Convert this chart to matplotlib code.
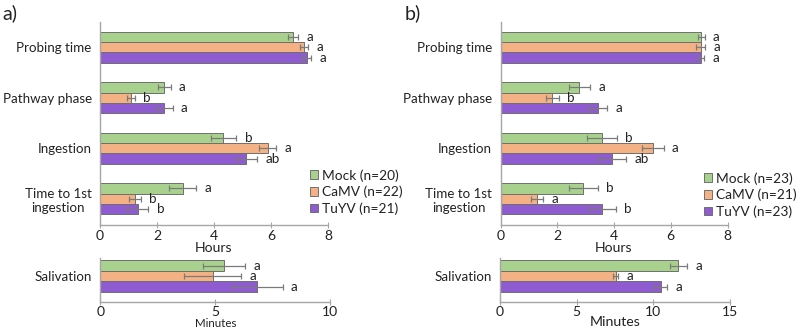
import numpy as np
import matplotlib.pyplot as plt
from matplotlib.patches import Patch

plt.rcParams['font.family'] = ['Lato', 'DejaVu Sans']

# ---- data ----
behaviours = ["Probing time", "Pathway phase", "Ingestion", "Time to 1st\ningestion"]
treatments = ["Mock", "CaMV", "TuYV"]
colors = ["#a9d18e", "#f4b183", "#8f5bd0"]

# panel a) - hours, one list per treatment
a_n = [20, 22, 21]
a_mock = [6.77, 2.25, 4.33, 2.90]
a_camv = [7.16, 1.08, 5.88, 1.23]
a_tuyv = [7.25, 2.25, 5.14, 1.33]
a_mock_err = [0.18, 0.23, 0.45, 0.47]
a_camv_err = [0.15, 0.15, 0.30, 0.20]
a_tuyv_err = [0.15, 0.30, 0.37, 0.37]
a_letters = [["a", "a", "b", "a"], ["a", "b", "a", "b"], ["a", "a", "ab", "b"]]
# salivation - minutes
a_sal = [5.38, 4.89, 6.84]
a_sal_err = [0.92, 1.25, 1.10]
a_sal_letters = ["a", "a", "a"]

# panel b)
b_n = [23, 21, 23]
b_mock = [7.07, 2.78, 3.57, 2.92]
b_camv = [7.05, 1.82, 5.37, 1.29]
b_tuyv = [7.05, 3.43, 3.92, 3.59]
b_mock_err = [0.12, 0.38, 0.53, 0.50]
b_camv_err = [0.15, 0.23, 0.38, 0.20]
b_tuyv_err = [0.12, 0.33, 0.50, 0.47]
b_letters = [["a", "a", "b", "b"], ["a", "b", "a", "a"], ["a", "a", "ab", "b"]]
b_sal = [11.63, 7.55, 10.48]
b_sal_err = [0.55, 0.17, 0.42]
b_sal_letters = ["a", "a", "a"]

W, H = 800, 330
fig = plt.figure(figsize=(8, 3.3), dpi=100)
FS = 9.6

def px_axes(x0, y0, x1, y1):
    # pixel box -> figure fraction
    return fig.add_axes([x0 / W, 1 - y1 / H, (x1 - x0) / W, (y1 - y0) / H])

h = 0.207
spine_col = "#a6a6a6"
err_kw = dict(ecolor="#7a7a7a", elinewidth=0.9, capsize=2.3, capthick=0.9)

def style(ax):
    for s in ["top", "right"]:
        ax.spines[s].set_visible(False)
    for s in ["left", "bottom"]:
        ax.spines[s].set_color(spine_col)
        ax.spines[s].set_linewidth(1.0)
    ax.tick_params(axis='y', length=0, pad=6, labelsize=FS, colors="#222222")
    ax.tick_params(axis='x', direction='inout', length=5, color=spine_col,
                   pad=1, labelsize=FS + 0.5, labelcolor="#222222")

def draw_top(ax, means, errs, letters):
    y = np.arange(len(behaviours))
    for i in range(3):
        yy = y + (i - 1) * h
        ax.barh(yy, means[i], height=h, color=colors[i], edgecolor="#6f6f6f",
                linewidth=0.7, xerr=errs[i], error_kw=err_kw)
        for j in range(len(behaviours)):
            ax.annotate(letters[i][j], (means[i][j] + errs[i][j], yy[j]),
                        xytext=(6, 0), textcoords='offset points',
                        ha='left', va='center', fontsize=FS, color="#222222")
    ax.set_yticks(y)
    ax.set_yticklabels(behaviours, multialignment='center')
    ax.set_ylim(3.52, -0.5)
    ax.set_xlim(0, 8)
    ax.set_xticks([0, 2, 4, 6, 8])
    style(ax)
    ax.set_xlabel("Hours", fontsize=FS + 0.5, labelpad=0, color="#222222")

def draw_sal(ax, means, errs, letters, xmax, xticks, label_size, pad):
    for i in range(3):
        yy = (i - 1) * h
        ax.barh(yy, means[i], height=h, color=colors[i], edgecolor="#6f6f6f",
                linewidth=0.7, xerr=errs[i], error_kw=err_kw)
        ax.annotate(letters[i], (means[i] + errs[i], yy), xytext=(6, 0),
                    textcoords='offset points', ha='left', va='center',
                    fontsize=FS, color="#222222")
    ax.set_yticks([0])
    ax.set_yticklabels(["Salivation"])
    ax.set_ylim(0.5, -0.355)
    ax.set_xlim(0, xmax)
    ax.set_xticks(xticks)
    style(ax)
    ax.set_xlabel("Minutes", fontsize=label_size, labelpad=pad, color="#222222")

def legend(ax, n, x, y):
    handles = [Patch(facecolor=colors[i], edgecolor="#6f6f6f", linewidth=0.7,
                     label=f"{treatments[i]} (n={n[i]})") for i in range(3)]
    ax.legend(handles=handles, loc='upper left', bbox_to_anchor=(x / W, 1 - y / H),
              bbox_transform=fig.transFigure, frameon=False, fontsize=FS + 0.3,
              handlelength=0.6, handleheight=0.6, handletextpad=0.3,
              labelspacing=0.3, borderpad=0, borderaxespad=0, labelcolor="#222222")

# ---- panel a) ----
ax_a = px_axes(100, 22, 328, 225)
draw_top(ax_a, [a_mock, a_camv, a_tuyv], [a_mock_err, a_camv_err, a_tuyv_err], a_letters)
legend(ax_a, a_n, 310, 169)
ax_a2 = px_axes(100.5, 258, 330, 301.5)
draw_sal(ax_a2, a_sal, a_sal_err, a_sal_letters, 10, [0, 5, 10], 8.3, 0)

# ---- panel b) ----
ax_b = px_axes(500.5, 22, 727.5, 225)
draw_top(ax_b, [b_mock, b_camv, b_tuyv], [b_mock_err, b_camv_err, b_tuyv_err], b_letters)
legend(ax_b, b_n, 704, 172)
ax_b2 = px_axes(500, 258, 730, 301.5)
draw_sal(ax_b2, b_sal, b_sal_err, b_sal_letters, 15, [0, 5, 10, 15], 10.2, -2)

fig.text(2 / W, 1 - 4 / H, "a)", fontsize=14, va='top', ha='left', color="#222222")
fig.text(405 / W, 1 - 4 / H, "b)", fontsize=14, va='top', ha='left', color="#222222")

fig.savefig("out.png", dpi=100)
